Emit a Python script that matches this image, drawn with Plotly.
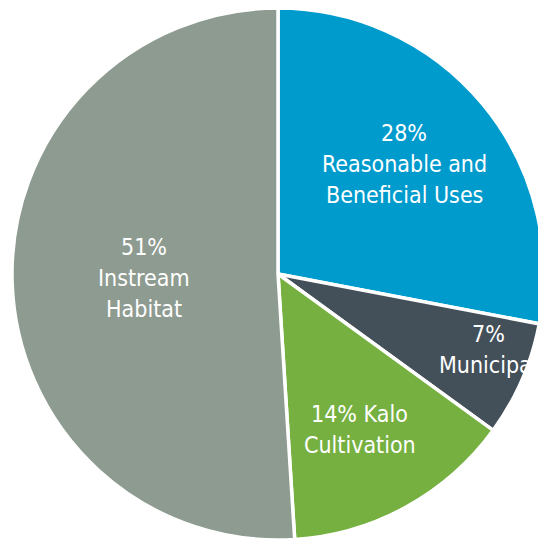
import math
import plotly.graph_objects as go

# Share of water by use (percent), clockwise from 12 o'clock
categories = ["Reasonable and Beneficial Uses", "Municipal", "Kalo Cultivation", "Instream Habitat"]
shares = [28, 7, 14, 51]
colors = ["#009BCD", "#445059", "#76B041", "#8E9B90"]

# Label line layout for each slice ({p} is replaced by the slice's share)
label_lines = [
    ["{p}%", "Reasonable and", "Beneficial Uses"],
    ["{p}%", "Municipal"],
    ["{p}% Kalo", "Cultivation"],
    ["{p}%", "Instream", "Habitat"],
]
# Label anchor: (offset from slice mid-angle in degrees, fraction of radius)
label_polar = [(-1.5, 0.63), (-3.6, 0.84), (1.1, 0.662), (0.3, 0.504)]

W, H = 560, 548
CX, CY, R = 278, 274, 266          # pie centre and radius in pixels
FONT = "DejaVu Sans Condensed, Roboto, sans-serif"
FSIZE = 23
LINE_H = 31

fig = go.Figure(go.Pie(
    labels=categories,
    values=shares,
    sort=False,
    direction="clockwise",
    rotation=0,
    marker=dict(colors=colors, line=dict(color="white", width=3.5)),
    textinfo="none",
    hoverinfo="label+percent",
    showlegend=False,
    domain=dict(x=[(CX - R) / W, (CX + R) / W], y=[(H - CY - R) / H, (H - CY + R) / H]),
))

total = sum(shares)
cum = 0
annotations = []
for val, lines, (dang, rf) in zip(shares, label_lines, label_polar):
    mid = (cum + val / 2) / total * 360 + dang
    cum += val
    px = CX + rf * R * math.sin(math.radians(mid))
    py = CY - rf * R * math.cos(math.radians(mid))
    n = len(lines)
    for i, ln in enumerate(lines):
        ly = py + (i - (n - 1) / 2) * LINE_H
        annotations.append(dict(
            x=px / W, y=1 - ly / H, xref="paper", yref="paper",
            text=ln.format(p=val), showarrow=False,
            xanchor="center", yanchor="middle",
            font=dict(family=FONT, size=FSIZE, color="white"),
        ))

fig.update_layout(
    width=W, height=H,
    margin=dict(l=0, r=0, t=0, b=0),
    paper_bgcolor="white", plot_bgcolor="white",
    annotations=annotations,
)

fig.write_html(
    "out.html",
    post_script="document.body.style.margin='0';document.body.style.overflow='hidden';"
                "document.documentElement.style.overflow='hidden';",
)
